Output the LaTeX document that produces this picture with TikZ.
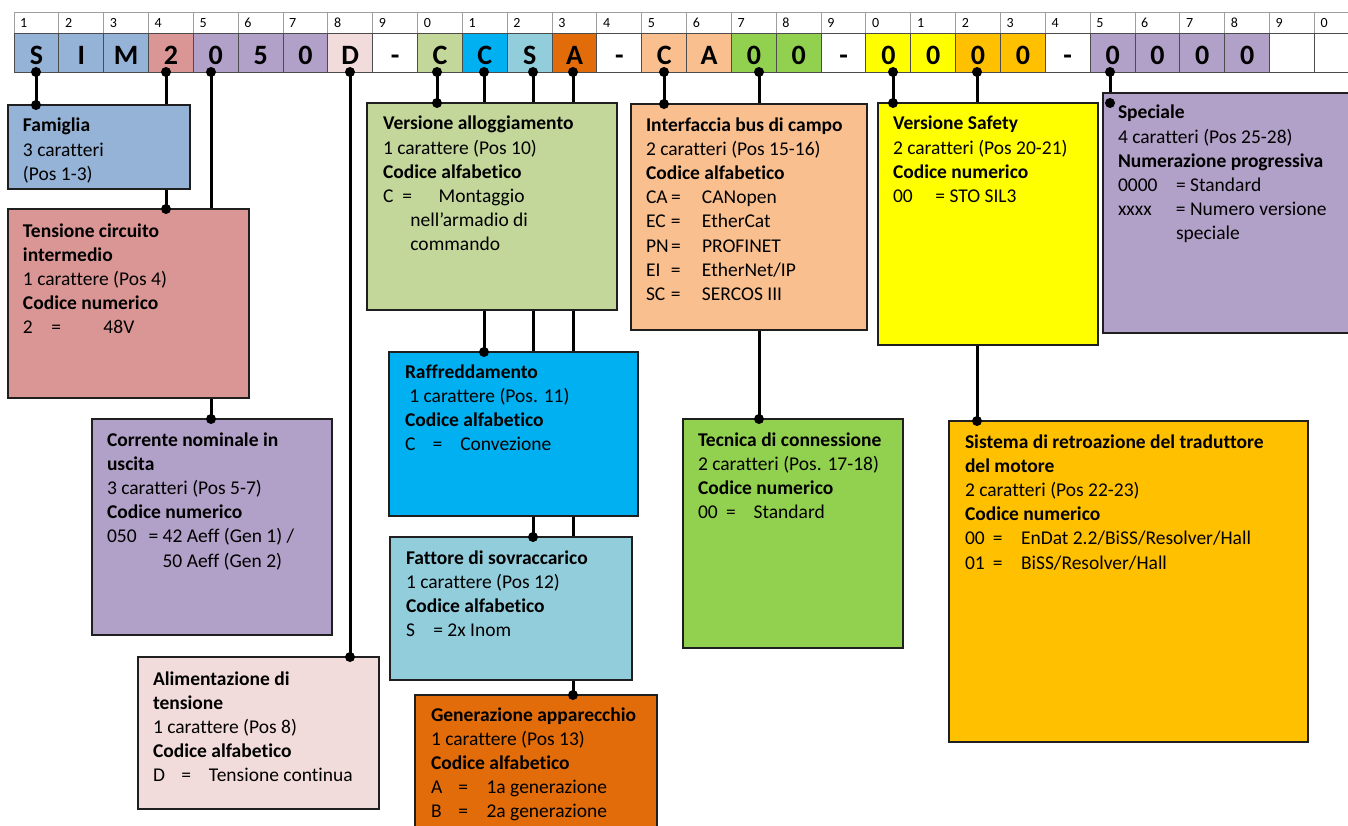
\documentclass[tikz,border=0pt]{standalone}
\usepackage{fontspec}
\setmainfont{Carlito}[Ligatures=CommonOff]
\usetikzlibrary{calc}
\definecolor{cBlue}{HTML}{95B3D7}
\definecolor{cRed}{HTML}{DA9694}
\definecolor{cLila}{HTML}{B1A0C7}
\definecolor{cPink}{HTML}{F2DCDB}
\definecolor{cOlive}{HTML}{C4D79B}
\definecolor{cCyan}{HTML}{00B0F0}
\definecolor{cTeal}{HTML}{92CDDC}
\definecolor{cOrange}{HTML}{E26B0A}
\definecolor{cPeach}{HTML}{FABF8F}
\definecolor{cGreen}{HTML}{92D050}
\definecolor{cYellow}{HTML}{FFFF00}
\definecolor{cGold}{HTML}{FFC000}
\newcommand\tb[2]{\makebox[#1pt][l]{#2}}
\newcommand\ind[1]{\hspace*{#1pt}}
\newcommand\fs{\rule{0pt}{16pt}}
\tikzset{
  box/.style={draw=black!88, line width=1.4pt, inner sep=0pt, outer sep=0pt, anchor=north west},
  txt/.style={anchor=north west, align=left, inner sep=0pt, outer sep=0pt, font=\fontsize{19.5}{24.2}\selectfont},
  conn/.style={line width=3pt, draw=black},
  hnum/.style={anchor=base west, inner sep=0pt, font=\fontsize{14}{16}\selectfont},
  hlet/.style={anchor=base, inner sep=0pt, font=\fontsize{28}{30}\selectfont\bfseries},
}
\begin{document}
\begin{tikzpicture}[x=1pt,y=-1pt]
\useasboundingbox (0,0) rectangle (1348,826);
\clip (0,0) rectangle (1348,826);
\fill[white] (0,0) rectangle (1348,826);
% header grid
\foreach \i/\c/\l in {1/cBlue/S,2/cBlue/I,3/cBlue/M,4/cRed/2,5/cLila/0,6/cLila/5,7/cLila/0,8/cPink/D,9/white/-,10/cOlive/C,
  11/cCyan/C,12/cTeal/S,13/cOrange/A,14/white/-,15/cPeach/C,16/cPeach/A,17/cGreen/0,18/cGreen/0,19/white/-,20/cYellow/0,
  21/cYellow/0,22/cGold/0,23/cGold/0,24/white/-,25/cLila/0,26/cLila/0,27/cLila/0,28/cLila/0,29/white/{},30/white/{}}{
  \pgfmathsetmacro\xl{14+(\i-1)*44.84}
  \pgfmathsetmacro\xr{14+\i*44.84}
  \pgfmathsetmacro\xm{14+(\i-0.5)*44.84}
  \pgfmathtruncatemacro\n{mod(\i,10)}
  \draw[gray!75, line width=1pt] (\xl,12.3) rectangle (\xr,33.3);
  \node[hnum] (n\i) at (\xl+6,28) {\n};
  \draw[fill=\c, draw=black!70, line width=1pt] (\xl,33.3) rectangle (\xr,72.3);
  \node[hlet] (l\i) at (\xm,64.8) {\l};
}
% top connector points
\coordinate (t1) at (36,72);
\coordinate (t4) at (166,72);
\coordinate (t5) at (211,72);
\coordinate (t8) at (350,72);
\coordinate (t10) at (437,72);
\coordinate (t11) at (484,72);
\coordinate (t12) at (533,72);
\coordinate (t13) at (573,72);
\coordinate (t15) at (664,72);
\coordinate (t17) at (759,72);
\coordinate (t20) at (893,72);
\coordinate (t22) at (977,72);
\coordinate (t25) at (1110,72);
% box geometry
\path (8,105) node[box, draw=none, minimum width=182, minimum height=84] (fam) {}
      (8,209) node[box, draw=none, minimum width=241, minimum height=189] (ten) {}
      (92,419) node[box, draw=none, minimum width=240, minimum height=216] (cor) {}
      (138,657) node[box, draw=none, minimum width=241, minimum height=152] (ali) {}
      (367,103) node[box, draw=none, minimum width=250, minimum height=207] (ver) {}
      (389,352) node[box, draw=none, minimum width=249, minimum height=164] (raf) {}
      (390,537) node[box, draw=none, minimum width=242, minimum height=143] (fat) {}
      (415,695) node[box, draw=none, minimum width=242, minimum height=160] (gen) {}
      (631,104) node[box, draw=none, minimum width=236, minimum height=226] (int) {}
      (683,419) node[box, draw=none, minimum width=220, minimum height=229] (tec) {}
      (878,103) node[box, draw=none, minimum width=220, minimum height=242] (saf) {}
      (949,421) node[box, draw=none, minimum width=359, minimum height=321] (sis) {}
      (1103,93) node[box, draw=none, minimum width=270, minimum height=240] (spe) {};
\coordinate (sped) at (1110,103);
% connectors
\draw[conn] (t1) -- (t1 |- fam.north);
\draw[conn] (t4) -- (t4 |- ten.north);
\draw[conn] (t5) -- (t5 |- cor.north);
\draw[conn] (t8) -- (t8 |- ali.north);
\draw[conn] (t10) -- (t10 |- ver.north);
\draw[conn] (t11) -- (t11 |- raf.north);
\draw[conn] (t12) -- (t12 |- fat.north);
\draw[conn] (t13) -- (t13 |- gen.north);
\draw[conn] (t15) -- (t15 |- int.north);
\draw[conn] (t17) -- (t17 |- tec.north);
\draw[conn] (t20) -- (t20 |- saf.north);
\draw[conn] (t22) -- (t22 |- sis.north);
\draw[conn] (t25) -- (sped);
% filled boxes
\foreach \b/\c in {fam/cBlue,ten/cRed,cor/cLila,ali/cPink,ver/cOlive,raf/cCyan,fat/cTeal,gen/cOrange,int/cPeach,tec/cGreen,saf/cYellow,sis/cGold,spe/cLila}{
  \filldraw[fill=\c, draw=black!88, line width=1.4pt] (\b.north west) rectangle (\b.south east);
}
% texts
\node[txt] (famT) at ($(fam.north west)+(15,11)$) {\fs\textbf{Famiglia}\\3 caratteri\\(Pos 1-3)};
\node[txt] (tenT) at ($(ten.north west)+(15,12)$) {\fs\textbf{Tensione circuito}\\\textbf{intermedio}\\1 carattere (Pos 4)\\\textbf{Codice numerico}\\\tb{28.5}{2}\tb{52}{=}48V};
\node[txt] (corT) at ($(cor.north west)+(15,11)$) {\fs\textbf{Corrente nominale in}\\\textbf{uscita}\\3 caratteri (Pos 5-7)\\\textbf{Codice numerico}\\\tb{41.6}{050}= 42 Aeff (Gen 1) /\\\ind{55.6}50 Aeff (Gen 2)};
\node[txt] (aliT) at ($(ali.north west)+(15,12)$) {\fs\textbf{Alimentazione di}\\\textbf{tensione}\\1 carattere (Pos 8)\\\textbf{Codice alfabetico}\\\tb{28.4}{D}\tb{27.6}{=}Tensione continua};
\node[txt] (verT) at ($(ver.north west)+(16,11)$) {\fs\textbf{Versione alloggiamento}\\1 carattere (Pos 10)\\\textbf{Codice alfabetico}\\\tb{19.4}{C}\tb{36.3}{=}Montaggio\\\ind{27.4}nell’armadio di\\\ind{27.4}commando};
\node[txt] (rafT) at ($(raf.north west)+(16,10)$) {\fs\textbf{Raffreddamento}\\\ind{4.3}1 carattere (Pos. 11)\\\textbf{Codice alfabetico}\\\tb{27.6}{C}\tb{27.7}{=}Convezione};
\node[txt] (fatT) at ($(fat.north west)+(16,11)$) {\fs\textbf{Fattore di sovraccarico}\\1 carattere (Pos 12)\\\textbf{Codice alfabetico}\\\tb{27.3}{S}= 2x Inom};
\node[txt] (genT) at ($(gen.north west)+(16,10)$) {\fs\textbf{Generazione apparecchio}\\1 carattere (Pos 13)\\\textbf{Codice alfabetico}\\\tb{27.3}{A}\tb{28.3}{=}1a generazione\\\tb{27.3}{B}\tb{28.3}{=}2a generazione};
\node[txt] (intT) at ($(int.north west)+(15,11)$) {\fs\textbf{Interfaccia bus di campo}\\2 caratteri (Pos 15-16)\\\textbf{Codice alfabetico}\\\tb{25}{CA}\tb{31}{=}CANopen\\\tb{25}{EC}\tb{31}{=}EtherCat\\\tb{25}{PN}\tb{31}{=}PROFINET\\\tb{25}{EI}\tb{31}{=}EtherNet/IP\\\tb{25}{SC}\tb{31}{=}SERCOS III};
\node[txt] (tecT) at ($(tec.north west)+(15,11)$) {\fs\textbf{Tecnica di connessione}\\2 caratteri (Pos. 17-18)\\\textbf{Codice numerico}\\\tb{28.2}{00}\tb{27.4}{=}Standard};
\node[txt] (safT) at ($(saf.north west)+(15,11)$) {\fs\textbf{Versione Safety}\\2 caratteri (Pos 20-21)\\\textbf{Codice numerico}\\\tb{42.4}{00}= STO SIL3};
\node[txt] (sisT) at ($(sis.north west)+(16,11)$) {\fs\textbf{Sistema di retroazione del traduttore}\\\textbf{del motore}\\2 caratteri (Pos 22-23)\\\textbf{Codice numerico}\\\tb{27.8}{00}\tb{28.2}{=}EnDat 2.2/BiSS/Resolver/Hall\\\tb{27.8}{01}\tb{28.2}{=}BiSS/Resolver/Hall};
\node[txt] (speT) at ($(spe.north west)+(15,10)$) {\fs\textbf{Speciale}\\4 caratteri (Pos 25-28)\\\textbf{Numerazione progressiva}\\\tb{58}{0000}= Standard\\\tb{58}{xxxx}= Numero versione\\\ind{58}speciale};
% dots
\foreach \p in {t1,t4,t5,t8,t10,t11,t12,t13,t15,t17,t20,t22,t25}{\fill[black] (\p) circle (5);}
\fill[black] (t1 |- fam.north) circle (5);
\fill[black] (t4 |- ten.north) circle (5);
\fill[black] (t5 |- cor.north) circle (5);
\fill[black] (t8 |- ali.north) circle (5);
\fill[black] (t10 |- ver.north) circle (5);
\fill[black] (t11 |- raf.north) circle (5);
\fill[black] (t12 |- fat.north) circle (5);
\fill[black] (t13 |- gen.north) circle (5);
\fill[black] (t15 |- int.north) circle (5);
\fill[black] (t17 |- tec.north) circle (5);
\fill[black] (t20 |- saf.north) circle (5);
\fill[black] (t22 |- sis.north) circle (5);
\fill[black] (sped) circle (5);
\end{tikzpicture}
\end{document}
